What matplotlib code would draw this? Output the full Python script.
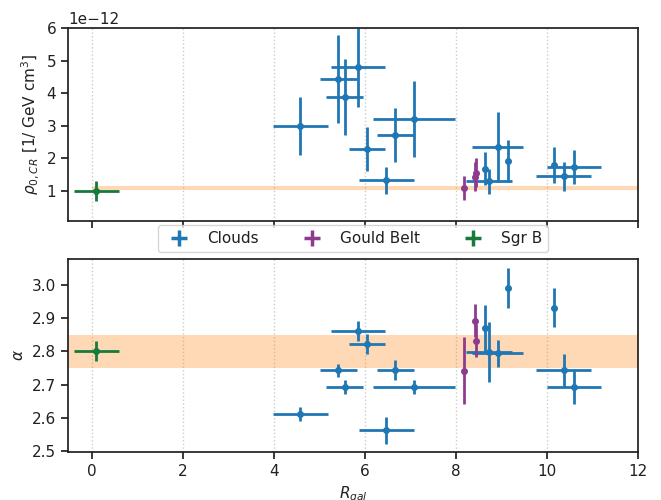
import matplotlib
matplotlib.use("Agg")
import matplotlib.pyplot as plt
from matplotlib.lines import Line2D
import numpy as np

# Molecular clouds
clouds_r = [4.58, 5.41, 5.55, 5.85, 6.05, 6.67, 7.08, 6.47, 8.64, 8.73, 8.92, 9.14, 10.16, 10.37, 10.60]
clouds_rerr = [0.6, 0.41, 0.41, 0.6, 0.4, 0.41, 0.9, 0.6, 0.0, 0.5, 0.56, 0.0, 0.0, 0.6, 0.6]
clouds_rho = [2.99, 4.44, 3.88, 4.79, 2.28, 2.72, 3.21, 1.33, 1.68, 1.30, 2.35, 1.93, 1.80, 1.45, 1.73]
clouds_rho_err = [0.9, 1.35, 1.17, 1.2, 0.68, 0.84, 1.16, 0.41, 0.51, 0.39, 1.06, 0.62, 0.56, 0.44, 0.53]
clouds_alpha = [2.611, 2.743, 2.693, 2.862, 2.822, 2.743, 2.693, 2.562, 2.871, 2.799, 2.794, 2.992, 2.932, 2.743, 2.693]
clouds_alpha_err = [0.02, 0.02, 0.02, 0.03, 0.03, 0.03, 0.02, 0.04, 0.07, 0.09, 0.04, 0.06, 0.06, 0.05, 0.05]

# Gould Belt
gould_r = [8.18, 8.42, 8.44]
gould_rho = [1.09, 1.44, 1.56]
gould_rho_err = [0.38, 0.45, 0.45]
gould_alpha = [2.742, 2.892, 2.832]
gould_alpha_err = [0.10, 0.05, 0.05]

# Sgr B
sgrb_r = [0.09]
sgrb_rerr = [0.5]
sgrb_rho = [1.0]
sgrb_rho_err = [0.3]
sgrb_alpha = [2.80]
sgrb_alpha_err = [0.03]

# local CR reference
local_rho = 1.1
local_alpha_lo, local_alpha_hi = 2.75, 2.85

SCALE = 1e-12
C_CLOUDS = "#1f77b4"
C_GOULD = "#8e3b8f"
C_SGRB = "#167a3a"

plt.rcParams.update({
    "font.size": 11,
    "axes.edgecolor": "#231f20",
    "axes.linewidth": 1.25,
    "text.color": "#231f20",
    "axes.labelcolor": "#231f20",
    "xtick.color": "#231f20",
    "ytick.color": "#231f20",
    "xtick.major.width": 1.25,
    "ytick.major.width": 1.25,
    "xtick.major.size": 5,
    "ytick.major.size": 5,
})

fig, (ax1, ax2) = plt.subplots(2, 1, figsize=(6.61, 5.0), dpi=100, sharex=True)
fig.subplots_adjust(left=0.103, right=0.965, top=0.944, bottom=0.096, hspace=0.197)

eb = dict(fmt="o", ms=4, elinewidth=2, capsize=0)

ax1.hlines(local_rho * SCALE, 0, 13, color="tab:orange", alpha=0.3, lw=3, zorder=1)
ax1.errorbar(clouds_r, np.array(clouds_rho) * SCALE, xerr=clouds_rerr,
             yerr=np.array(clouds_rho_err) * SCALE, color=C_CLOUDS, **eb)
ax1.errorbar(gould_r, np.array(gould_rho) * SCALE,
             yerr=np.array(gould_rho_err) * SCALE, color=C_GOULD, **eb)
ax1.errorbar(sgrb_r, np.array(sgrb_rho) * SCALE, xerr=sgrb_rerr,
             yerr=np.array(sgrb_rho_err) * SCALE, color=C_SGRB, **eb)
ax1.set_ylim(0.08e-12, 6e-12)
ax1.set_ylabel(r"$\rho_{0,CR}$ [1/ GeV cm$^3$]")

ax2.axhspan(local_alpha_lo, local_alpha_hi, color="tab:orange", alpha=0.3, lw=0, zorder=1)
ax2.errorbar(clouds_r, clouds_alpha, xerr=clouds_rerr, yerr=clouds_alpha_err,
             color=C_CLOUDS, **eb)
ax2.errorbar(gould_r, gould_alpha, yerr=gould_alpha_err, color=C_GOULD, **eb)
ax2.errorbar(sgrb_r, sgrb_alpha, xerr=sgrb_rerr, yerr=sgrb_alpha_err, color=C_SGRB, **eb)
ax2.set_ylim(2.497, 3.078)
ax2.set_yticks([2.5, 2.6, 2.7, 2.8, 2.9, 3.0])
ax2.set_ylabel(r"$\alpha$")
ax2.set_xlabel(r"$R_{gal}$")

for ax in (ax1, ax2):
    ax.set_xlim(-0.53, 12.0)
    ax.set_xticks([0, 2, 4, 6, 8, 10, 12])
    ax.grid(axis="x", linestyle=":", color="#cccccc", lw=1)
    ax.set_axisbelow(True)

handles = [
    Line2D([], [], ls="", marker="+", ms=12, mew=2.5, color=c, label=lab)
    for c, lab in [(C_CLOUDS, "Clouds"), (C_GOULD, "Gould Belt"), (C_SGRB, "Sgr B")]
]
ax1.legend(handles=handles, loc="upper center", bbox_to_anchor=(0.5, -0.02), ncol=3,
           borderaxespad=0, columnspacing=2.5, fancybox=True)

fig.savefig("out.png", dpi=100)
